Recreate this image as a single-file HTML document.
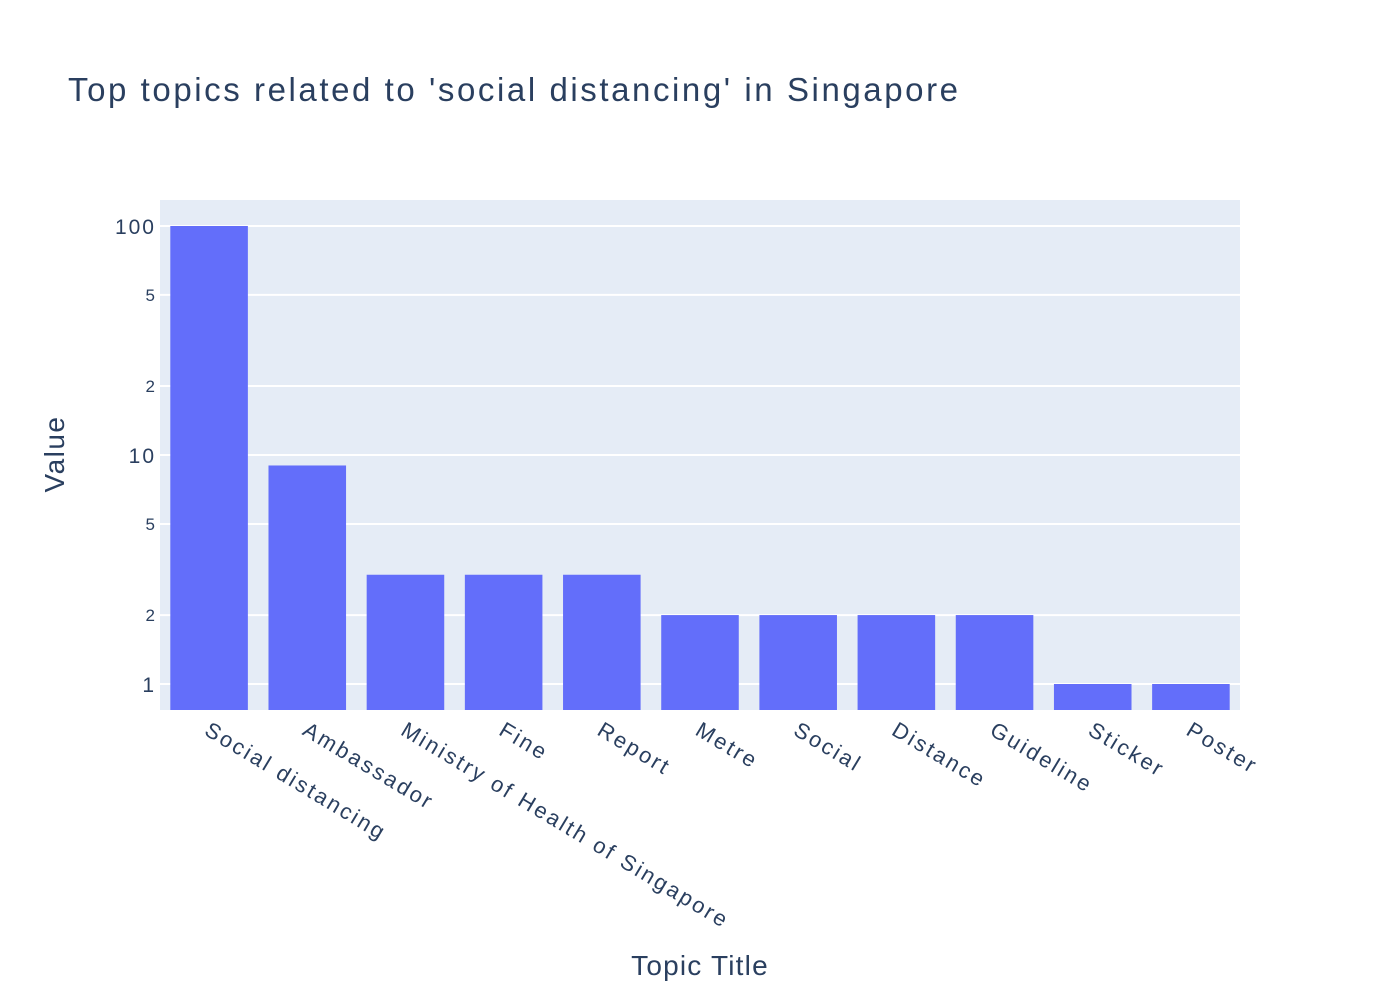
<!DOCTYPE html>
<html><head><meta charset="utf-8"><style>
body{margin:0;background:#fff;}
svg{display:block;font-family:"Liberation Sans",sans-serif;}
</style></head><body>
<svg id="chart" width="1400" height="1000">
<rect x="0" y="0" width="1400" height="1000" fill="#fff"/>
<text x="68" y="101" font-size="33" fill="#2a3f5f" textLength="890" lengthAdjust="spacing">Top topics related to 'social distancing' in Singapore</text>
<rect x="160" y="200" width="1080" height="510" fill="#e5ecf6"/>
<g id="grid"></g><g id="bars"></g><g id="yticks"></g><g id="xticks"></g>
<text x="64" y="454" font-size="28" fill="#2a3f5f" text-anchor="middle" letter-spacing="1.5" transform="rotate(-90 64 454)">Value</text>
<text x="700" y="975" font-size="28" fill="#2a3f5f" text-anchor="middle" letter-spacing="1.2">Topic Title</text>
</svg>
<script>
const categories=["Social distancing","Ambassador","Ministry of Health of Singapore","Fine","Report","Metre","Social","Distance","Guideline","Sticker","Poster"];
const values=[100,9,3,3,3,2,2,2,2,1,1];
const tickValues=[1,2,5,10,20,50,100];
const tickLabels=["1","2","5","10","2","5","100"];
const NS="http://www.w3.org/2000/svg";
const x0=160,x1=1240,yTop=200,yBot=710;
const lmin=-0.1135,lmax=2.1135;
function y(v){return yBot-(Math.log10(v)-lmin)/(lmax-lmin)*(yBot-yTop);}
const band=(x1-x0)/categories.length;
function xc(i){return x0+band*(i+0.5);}
function mk(tag,attrs,parent){const e=document.createElementNS(NS,tag);for(const k in attrs)e.setAttribute(k,attrs[k]);document.getElementById(parent).appendChild(e);return e;}
tickValues.forEach((t,i)=>{
  const g=mk("line",{x1:x0,x2:x1,y1:y(t),y2:y(t),stroke:"#fff","stroke-width":2},"grid");
  
  
  const major=tickLabels[i].length>1||t===1;
  const tx=mk("text",{x:x0-4,y:y(t)+(major?8:6),"text-anchor":"end","font-size":major?21:17,"letter-spacing":major?2:1,fill:"#2a3f5f"},"yticks");
  tx.textContent=tickLabels[i];
  
  
});
const bw=band*0.79;
values.forEach((v,i)=>{
  const top=y(v);
  const r=mk("rect",{x:xc(i)-bw/2,y:top,width:bw,height:yBot-top,fill:"#636efa"},"bars");
  
  
  const tx=mk("text",{x:xc(i)-6,y:734,"font-size":22,"letter-spacing":2.5,fill:"#2a3f5f",transform:"rotate(31 "+(xc(i)-6)+" 734)"},"xticks");
  tx.textContent=categories[i];
  
  
});
</script>
</body></html>
